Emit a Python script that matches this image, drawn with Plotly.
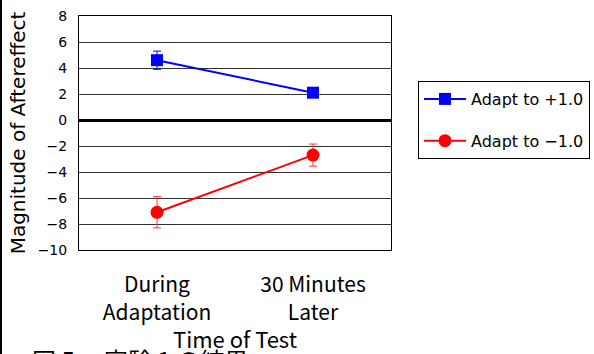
import plotly.graph_objects as go

# Data
categories = ["During<br>Adaptation", "30 Minutes<br>Later"]
adapt_pos = [4.6, 2.1]
adapt_pos_err = [0.7, 0.3]
adapt_neg = [-7.1, -2.7]
adapt_neg_err = [1.2, 0.85]
y_ticks = [8, 6, 4, 2, 0, -2, -4, -6, -8, -10]

W, H = 594, 354
L, R, T, B = 79, 203, 16, 104
pw, ph = W - L - R, H - T - B

jp = "Noto Sans CJK JP"
sans = "DejaVu Sans"

fig = go.Figure()
fig.add_trace(go.Scatter(
    x=categories, y=adapt_pos, name="Adapt to +1.0", legendgroup="a",
    mode="lines+markers",
    line=dict(color="#0000ff", width=2),
    marker=dict(symbol="square", size=12, color="#0000ff"),
    error_y=dict(type="data", array=adapt_pos_err, color="#0000ff", thickness=1, width=4),
))
fig.add_trace(go.Scatter(
    x=categories, y=adapt_neg, name="Adapt to \u22121.0", legendgroup="b",
    mode="lines+markers",
    line=dict(color="#ff0000", width=2),
    marker=dict(symbol="circle", size=13, color="#ff0000"),
    error_y=dict(type="data", array=adapt_neg_err, color="#ff3333", thickness=1, width=4),
))

fig.update_layout(
    width=W, height=H,
    margin=dict(l=L, r=R, t=T, b=B, autoexpand=False),
    paper_bgcolor="white", plot_bgcolor="white",
    font=dict(family=jp, color="black"),
    showlegend=True,
    legend=dict(
        x=(418 - L) / pw, y=(H - B - 81) / ph, xanchor="left", yanchor="top",
        bordercolor="black", borderwidth=1, bgcolor="white",
        font=dict(family=sans, size=16), tracegroupgap=18,
        traceorder="grouped", itemwidth=42,
    ),
    xaxis=dict(
        range=[-0.5, 1.5], showgrid=False, zeroline=False, automargin=False,
        showline=True, linecolor="black", linewidth=1, mirror=True,
        ticks="", tickfont=dict(family=jp, size=21), ticklabelstandoff=16,
        title=dict(text="Time of Test", font=dict(family=jp, size=22), standoff=4),
    ),
    yaxis=dict(
        range=[-10, 8], tickvals=y_ticks, automargin=False,
        ticktext=[("\u2212" + str(-v)) if v < 0 else str(v) for v in y_ticks],
        showgrid=True, gridcolor="#333333", gridwidth=1,
        zeroline=True, zerolinecolor="black", zerolinewidth=3,
        showline=True, linecolor="black", linewidth=1, mirror=True,
        ticks="", tickfont=dict(family=sans, size=14), ticklabelstandoff=8,
        title=dict(text="Magnitude of Aftereffect",
                   font=dict(family=sans, size=20), standoff=6),
    ),
    shapes=[dict(type="line", xref="paper", yref="paper",
                 x0=-(L - 1) / pw, x1=-(L - 1) / pw,
                 y0=-B / ph, y1=1 + T / ph,
                 line=dict(color="black", width=2))],
    annotations=[dict(
        text="図 5　 実験 1 の結果", xref="paper", yref="paper",
        x=(30 - L) / pw, y=(H - B - 340) / ph,
        xanchor="left", yanchor="top", showarrow=False,
        font=dict(family=jp, size=24),
    )],
)

fig.write_html("out.html")
